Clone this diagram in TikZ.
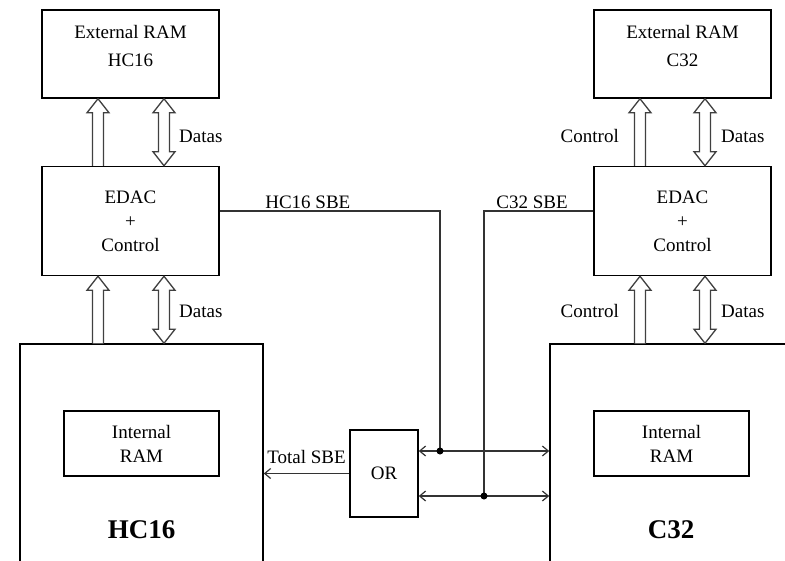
\documentclass[tikz,border=0pt]{standalone}
\usepackage{fontspec}
\setmainfont{Liberation Serif}
\usetikzlibrary{positioning, calc, arrows.meta}

% hollow bus arrows: #1 x position, #2 lower node, #3 upper node
\newcommand{\busone}[3]{%
  \draw[bus] ({#1-5.5},0 |- #2.north) -- ($({#1-5.5},0 |- #3.south)+(0,14)$) -- ++(-5.5,0)
    -- (#1,0 |- #3.south) -- ++(11,14) -- ++(-5.5,0) -- ({#1+5.5},0 |- #2.north);}
\newcommand{\bustwo}[3]{%
  \draw[bus] (#1,0 |- #2.north) -- ++(11,-14) -- ++(-5.5,0)
    -- ($({#1+5.5},0 |- #3.south)+(0,14)$) -- ++(5.5,0) -- (#1,0 |- #3.south)
    -- ++(-11,14) -- ++(5.5,0) -- ($({#1-5.5},0 |- #2.north)+(0,-14)$) -- ++(-5.5,0) -- cycle;}

\begin{document}
\begin{tikzpicture}[x=1pt, y=-1pt, >={Straight Barb[length=6pt, width=10pt]},
    every node/.style={font=\fontsize{19}{24}\selectfont},
    box/.style={draw, line width=1.5pt, align=center, inner sep=0pt},
    cpubox/.style={draw, line width=1.5pt, minimum height=260pt},
    cpulbl/.style={font=\fontsize{27}{30}\selectfont\bfseries},
    lbl/.style={inner sep=2pt},
    wire/.style={draw=black!80, line width=1.2pt},
    bus/.style={draw=black!75, line width=1.3pt, fill=white, line join=miter}]
    \fill[white] (0,0) rectangle (785,560);
    \useasboundingbox (0,0) rectangle (785,560);

    % HC16 side
    \node[box, minimum width=177pt, minimum height=88pt, text depth=17pt] (extHC) at (130.5,54) {External RAM\\[4pt]HC16};
    \node[box, minimum width=177pt, minimum height=109pt, below=67pt of extHC] (edacHC) {EDAC\\+\\Control};
    \node[cpubox, minimum width=243pt, below=67pt of edacHC, xshift=11pt] (hc16) {};
    \node[box, minimum width=155pt, minimum height=65pt, below=67pt of hc16.north] (ramHC) {Internal\\RAM};
    \node[cpulbl] (lblHC) at ([yshift=-186pt]hc16.north) {HC16};

    % C32 side
    \node[box, minimum width=177pt, minimum height=88pt, text depth=17pt] (extC) at (682.5,54) {External RAM\\[4pt]C32};
    \node[box, minimum width=177pt, minimum height=109pt, below=67pt of extC] (edacC) {EDAC\\+\\Control};
    \node[cpubox, minimum width=270pt, below=67pt of edacC, xshift=2.5pt] (c32) {};
    \node[box, minimum width=155pt, minimum height=65pt, below=67pt of c32.north, xshift=-13.5pt] (ramC) {Internal\\RAM};
    \node[cpulbl] (lblC) at ([xshift=-14pt, yshift=-186pt]c32.north) {C32};

    \node[box, minimum width=68pt, minimum height=87pt] (orgate) at (384,473.5) {OR};
    \coordinate (dotHC) at (440,451);
    \coordinate (dotC) at (484,496);

    % buses
    \busone{98}{edacHC}{extHC}
    \bustwo{164}{edacHC}{extHC}
    \busone{98}{hc16}{edacHC}
    \bustwo{164}{hc16}{edacHC}
    \busone{640}{edacC}{extC}
    \bustwo{705}{edacC}{extC}
    \busone{640}{c32}{edacC}
    \bustwo{705}{c32}{edacC}
    \node[lbl, anchor=west] (datas1) at (177,136) {Datas};
    \node[lbl, anchor=west] (datas2) at (177,311) {Datas};
    \node[lbl, anchor=east] (ctl3) at (621,136) {Control};
    \node[lbl, anchor=west] (datas3) at (719,136) {Datas};
    \node[lbl, anchor=east] (ctl4) at (621,311) {Control};
    \node[lbl, anchor=west] (datas4) at (719,311) {Datas};

    % SBE lines
    \draw[wire] ([yshift=10pt]edacHC.east) -| node[lbl, above, pos=0.2] {HC16 SBE} (dotHC);
    \draw[wire] ([yshift=10pt]edacC.west) -| node[lbl, above, pos=0.28] {C32 SBE} (dotC);
    \draw[wire, <->] (orgate.east |- dotHC) -- (c32.west |- dotHC);
    \draw[wire, <->] (orgate.east |- dotC) -- (c32.west |- dotC);
    \draw[wire, ->] (orgate.west) -- (orgate.west -| hc16.east) node[lbl, midway, above=7pt] {Total SBE};
    \fill[black] (dotHC) circle (3.5pt);
    \fill[black] (dotC) circle (3.5pt);
\end{tikzpicture}
\end{document}
